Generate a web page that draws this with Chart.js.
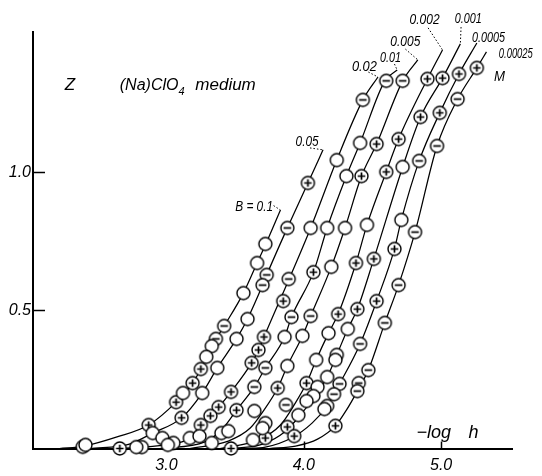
<!DOCTYPE html>
<html>
<head>
<meta charset="utf-8">
<script src="https://cdn.jsdelivr.net/npm/chart.js@4"></script>
<style>
  html, body { margin: 0; padding: 0; background: #fff; }
  canvas { display: block; }
</style>
</head>
<body>
<canvas id="chart" width="542" height="476"></canvas>
<script>
/* ---------- axes ---------- */
const xTicks = [3.0, 4.0, 5.0];
const yTicks = [0.5, 1.0];

/* ---------- drawn curves, one per B (M) ---------- */
const B01x = [2.22, 2.40, 2.64, 2.87, 3.07, 3.19, 3.25, 3.33, 3.42, 3.56, 3.66, 3.72, 3.83];
const B01z = [0, 0.009, 0.042, 0.085, 0.168, 0.237, 0.288, 0.371, 0.444, 0.563, 0.672, 0.737, 0.864];
const B005x = [2.44, 2.73, 2.90, 3.11, 3.26, 3.37, 3.51, 3.59, 3.70, 3.73, 3.88, 4.03, 4.14];
const B005z = [0, 0.016, 0.056, 0.111, 0.201, 0.292, 0.397, 0.469, 0.592, 0.629, 0.799, 0.962, 1.082];
const B002x = [2.66, 2.99, 3.17, 3.25, 3.32, 3.38, 3.47, 3.62, 3.67, 3.71, 4.05, 4.24, 4.43, 4.54];
const B002z = [0, 0.013, 0.038, 0.085, 0.118, 0.150, 0.205, 0.310, 0.357, 0.404, 0.799, 1.045, 1.263, 1.346];
const B001x = [2.95, 3.28, 3.40, 3.51, 3.64, 3.72, 3.86, 3.91, 4.07, 4.17, 4.31, 4.41, 4.59, 4.68];
const B001z = [0, 0.024, 0.067, 0.139, 0.223, 0.292, 0.404, 0.476, 0.639, 0.799, 0.987, 1.107, 1.332, 1.371];
const B0005x = [3.17, 3.45, 3.61, 3.71, 3.81, 3.88, 3.99, 4.05, 4.20, 4.30, 4.42, 4.53, 4.72, 4.83];
const B0005z = [0, 0.027, 0.074, 0.139, 0.219, 0.299, 0.408, 0.480, 0.658, 0.799, 0.987, 1.103, 1.332, 1.408];
const B0002x = [3.39, 3.67, 3.83, 3.93, 4.02, 4.09, 4.18, 4.25, 4.38, 4.46, 4.60, 4.69, 4.90, 5.01];
const B0002z = [0, 0.031, 0.085, 0.158, 0.237, 0.321, 0.418, 0.487, 0.672, 0.810, 1.002, 1.121, 1.339, 1.444];
const B0001x = [3.50, 3.70, 3.86, 3.97, 4.07, 4.17, 4.24, 4.32, 4.39, 4.51, 4.72, 4.85, 5.01, 5.14];
const B0001z = [0, 0.016, 0.060, 0.118, 0.183, 0.259, 0.339, 0.433, 0.505, 0.687, 1.020, 1.201, 1.342, 1.466];
const B00005x = [3.57, 3.72, 3.91, 4.06, 4.17, 4.26, 4.41, 4.53, 4.66, 4.71, 4.84, 4.99, 5.13, 5.26];
const B00005z = [0, 0.005, 0.038, 0.092, 0.154, 0.234, 0.379, 0.534, 0.723, 0.828, 1.042, 1.216, 1.357, 1.469];
const B000025x = [3.75, 3.94, 4.10, 4.23, 4.31, 4.39, 4.47, 4.59, 4.69, 4.81, 4.97, 5.12, 5.26, 5.33];
const B000025z = [0, 0.009, 0.034, 0.082, 0.139, 0.208, 0.284, 0.455, 0.592, 0.784, 1.096, 1.266, 1.379, 1.437];

/* ---------- measured points: open circle, circle with +, circle with - ---------- */
const openX = [3.72, 3.66, 3.56, 3.33, 3.29, 3.12, 2.90, 2.39, 2.41, 3.59, 3.51, 3.37, 3.26, 4.24, 4.41, 4.31, 4.72, 4.05, 4.17, 4.30,
               4.46, 4.71, 4.20, 3.99, 3.86, 4.18, 4.32, 4.09, 4.24, 4.23, 3.88, 4.17, 4.10, 4.07, 4.02, 4.17, 4.15, 3.96, 3.64, 3.72,
               3.70, 3.40, 3.45, 3.17, 3.24, 3.33, 3.63, 2.97, 3.05, 3.01, 2.82, 2.78];
const openZ = [0.741, 0.672, 0.563, 0.371, 0.332, 0.201, 0.056, 0.006, 0.013, 0.469, 0.397, 0.292, 0.201, 1.045, 1.107, 0.987, 1.020, 0.799, 0.799, 0.799,
               0.810, 0.828, 0.658, 0.408, 0.404, 0.418, 0.433, 0.321, 0.339, 0.321, 0.299, 0.259, 0.223, 0.190, 0.172, 0.154, 0.143, 0.121, 0.136, 0.092,
               0.074, 0.056, 0.063, 0.038, 0.045, 0.020, 0.031, 0.038, 0.020, 0.013, 0.005, 0.005];
const plusX = [4.03, 4.53, 4.69, 4.85, 4.99, 4.90, 5.01, 5.13, 5.26, 4.42, 4.60, 4.66, 4.51, 4.38, 4.07, 3.85, 4.25, 4.39, 4.53, 3.71,
               3.67, 3.62, 4.02, 3.25, 3.19, 3.47, 3.81, 3.07, 3.38, 3.51, 3.11, 3.32, 3.25, 2.87, 3.88, 3.93, 3.72, 3.47, 2.66, 4.23];
const plusZ = [0.962, 1.103, 1.121, 1.201, 1.216, 1.339, 1.342, 1.357, 1.379, 0.987, 1.002, 0.723, 0.687, 0.672, 0.639, 0.534, 0.487, 0.505, 0.534, 0.404,
               0.357, 0.310, 0.237, 0.288, 0.237, 0.205, 0.219, 0.168, 0.150, 0.139, 0.111, 0.118, 0.085, 0.085, 0.078, 0.045, 0.038, 0.0, 0.0, 0.082];
const minusX = [4.60, 4.72, 4.43, 5.12, 4.84, 4.97, 4.81, 3.88, 3.73, 3.70, 3.89, 4.69, 3.91, 4.05, 4.59, 3.42, 3.36, 4.41, 3.72, 4.47,
                3.64, 4.26, 4.22, 4.40, 4.39, 3.87];
const minusZ = [1.332, 1.332, 1.263, 1.266, 1.042, 1.096, 0.784, 0.799, 0.629, 0.592, 0.614, 0.592, 0.476, 0.480, 0.455, 0.444, 0.397, 0.379, 0.292, 0.284,
                0.223, 0.234, 0.197, 0.237, 0.208, 0.158];

/* ---------- helpers ---------- */
const FONT = "'Liberation Sans', Arial, sans-serif";
const pts = (xs, zs) => xs.map((v, i) => ({ x: v, y: zs[i] }));

function marker(kind) {
  const c = document.createElement("canvas");
  c.width = c.height = 17;
  const g = c.getContext("2d");
  g.beginPath();
  g.arc(8.5, 8.5, 6.5, 0, 2 * Math.PI);
  g.fillStyle = "#fff"; g.fill();
  g.lineWidth = 1.4; g.strokeStyle = "#000"; g.stroke();
  g.lineWidth = 1.7;
  g.beginPath();
  if (kind !== "open") { g.moveTo(4.7, 8.5); g.lineTo(12.3, 8.5); }
  if (kind === "plus") { g.moveTo(8.5, 4.7); g.lineTo(8.5, 12.3); }
  g.stroke();
  return c;
}

const curve = (xs, zs) => ({
  data: pts(xs, zs), showLine: true, pointRadius: 0, borderColor: "#000", borderWidth: 1.25,
  cubicInterpolationMode: "monotone", order: 2, clip: false
});
const dots = (xs, zs, kind) => ({
  data: pts(xs, zs), showLine: false, pointRadius: 6, pointStyle: marker(kind), order: 1, clip: false
});

/* ---------- labels drawn on top (data coords) ---------- */
const curveTags = [
  // text, x, z, max width px, leader from [x,z] to [x,z]
  ["B = 0.1", 3.50, 0.861, 38, [3.78, 0.880], [3.83, 0.864]],
  ["0.05", 3.94, 1.096, 23, [4.045, 1.089], [4.14, 1.082]],
  ["0.02", 4.35, 1.368, 25, [4.47, 1.364], [4.54, 1.346]],
  ["0.01", 4.555, 1.400, 21, [4.66, 1.393], [4.68, 1.371]],
  ["0.005", 4.63, 1.458, 30, [4.74, 1.447], [4.83, 1.408]],
  ["0.002", 4.77, 1.538, 30, [4.905, 1.524], [5.01, 1.444]],
  ["0.001", 5.10, 1.542, 27, [5.145, 1.527], [5.14, 1.466]],
  ["0.0005", 5.225, 1.473, 33, null, null],
  ["0.00025", 5.42, 1.415, 34, null, null],
  ["M", 5.385, 1.332, 11, null, null]
];

const decor = {
  id: "decor",
  beforeDatasetsDraw(chart) {
    const { ctx, scales: { x, y } } = chart;
    ctx.save();
    ctx.strokeStyle = "#000";
    ctx.lineWidth = 1.5;
    yTicks.forEach(v => {
      const p = Math.round(y.getPixelForValue(v)) + 0.5;
      ctx.beginPath(); ctx.moveTo(x.left, p); ctx.lineTo(x.left + 12, p); ctx.stroke();
    });
    xTicks.forEach(v => {
      const p = Math.round(x.getPixelForValue(v)) + 0.5;
      ctx.beginPath(); ctx.moveTo(p, y.bottom); ctx.lineTo(p, y.bottom - 7); ctx.stroke();
    });
    ctx.restore();
  },
  afterDraw(chart) {
    const { ctx, scales: { x, y } } = chart;
    const X = v => x.getPixelForValue(v), Y = v => y.getPixelForValue(v);
    ctx.save();
    ctx.fillStyle = "#000";
    ctx.strokeStyle = "#000";
    ctx.textBaseline = "alphabetic";
    ctx.textAlign = "left";

    // axis titles
    ctx.font = `italic 17px ${FONT}`;
    ctx.fillText("Z", X(2.26), Y(1.299));
    ctx.font = `italic 16px ${FONT}`;
    ctx.fillText("(Na)ClO", X(2.66), Y(1.299));
    const w = ctx.measureText("(Na)ClO").width;
    ctx.font = `italic 11px ${FONT}`;
    ctx.fillText("4", X(2.66) + w, Y(1.299) + 5);
    ctx.font = `italic 17px ${FONT}`;
    ctx.fillText("medium", X(3.21), Y(1.299));
    ctx.font = `italic 18px ${FONT}`;
    ctx.fillText("\u2212log", X(4.82), Y(0.038));
    ctx.fillText("h", X(5.20), Y(0.038));

    // B labels and dotted leaders
    ctx.font = `italic 14px ${FONT}`;
    ctx.lineWidth = 1;
    curveTags.forEach(([t, tx, tz, mw, a, b]) => {
      ctx.fillText(t, X(tx), Y(tz), mw);
      if (a) {
        ctx.setLineDash([1.5, 2]);
        ctx.beginPath(); ctx.moveTo(X(a[0]), Y(a[1])); ctx.lineTo(X(b[0]), Y(b[1])); ctx.stroke();
      }
    });
    ctx.restore();
  }
};

new Chart(document.getElementById("chart"), {
  type: "scatter",
  data: {
    datasets: [
      dots(openX, openZ, "open"),
      dots(plusX, plusZ, "plus"),
      dots(minusX, minusZ, "minus"),
      curve(B01x, B01z),
      curve(B005x, B005z),
      curve(B002x, B002z),
      curve(B001x, B001z),
      curve(B0005x, B0005z),
      curve(B0002x, B0002z),
      curve(B0001x, B0001z),
      curve(B00005x, B00005z),
      curve(B000025x, B000025z)
    ]
  },
  options: {
    responsive: false,
    animation: false,
    devicePixelRatio: 1,
    events: [],
    layout: { padding: { left: 0, right: 30, top: 32, bottom: 0 } },
    plugins: { legend: { display: false }, tooltip: { enabled: false } },
    scales: {
      x: {
        type: "linear", min: 2.028, max: 5.516,
        afterBuildTicks: s => { s.ticks = xTicks.map(v => ({ value: v })); },
        afterFit: s => { s.height = 27.5; },
        grid: { display: false, drawTicks: false },
        border: { display: true, color: "#000", width: 2 },
        ticks: { autoSkip: false, maxRotation: 0, padding: 7, color: "#000",
                 font: { family: FONT, size: 16, style: "italic" }, callback: v => v.toFixed(1) }
      },
      y: {
        type: "linear", min: 0, max: 1.509,
        afterBuildTicks: s => { s.ticks = yTicks.map(v => ({ value: v })); },
        afterFit: s => { s.width = 33; },
        grid: { display: false, drawTicks: false },
        border: { display: true, color: "#000", width: 2 },
        ticks: { autoSkip: false, padding: 2, color: "#000",
                 font: { family: FONT, size: 16, style: "italic" }, callback: v => v.toFixed(1) }
      }
    }
  },
  plugins: [decor]
});
</script>
</body>
</html>
